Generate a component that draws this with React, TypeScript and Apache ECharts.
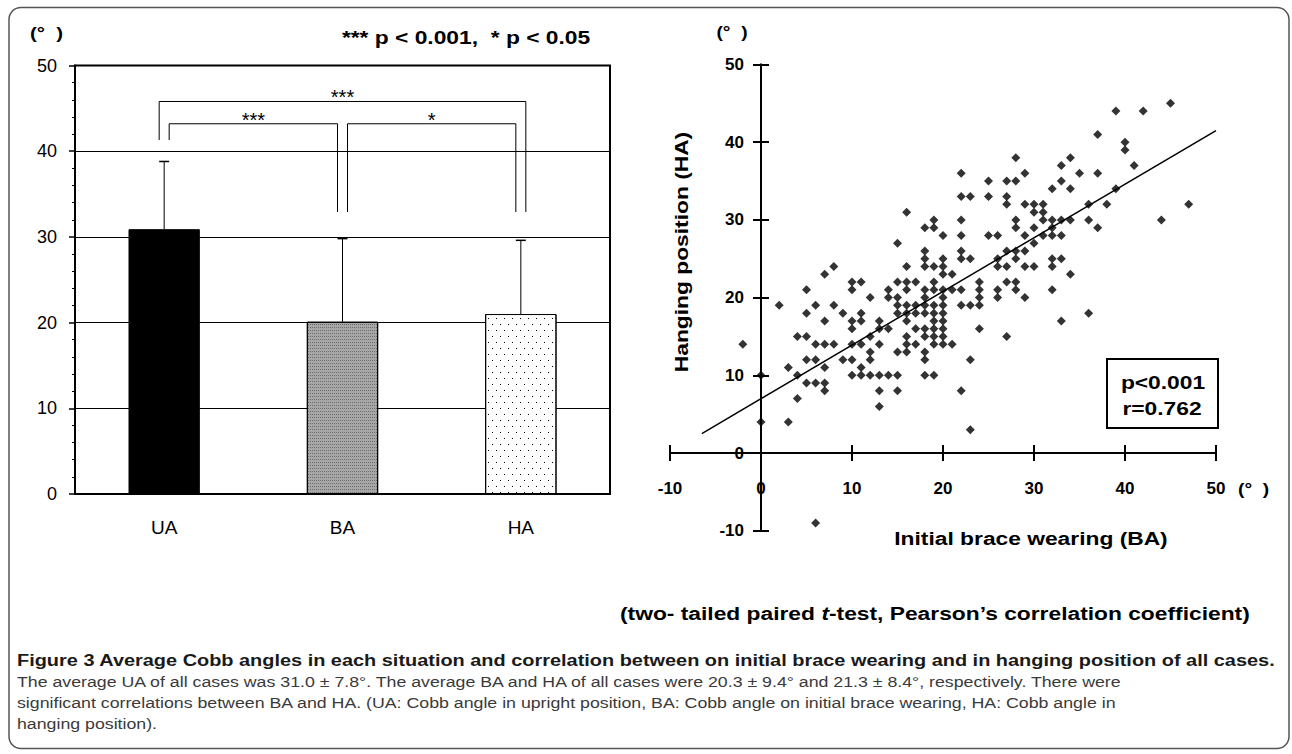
import React, { useEffect, useRef } from "react";
import * as echarts from "echarts";

// ---------- data ----------
const barCategories = ["UA", "BA", "HA"];
const barMeans = [30.9, 20.1, 21.0];
const barErrorTops = [38.8, 29.8, 29.6];
const barAxisMin = 0;
const barAxisMax = 50;
const barAxisInterval = 10;

// significance brackets: [fromCat, toCat, topValue, footFrom, footTo, sideFrom, sideTo]
const bracketDefs = [
  [0, 2, 45.8, 41.3, 32.9, -1, 1],
  [0, 1, 43.2, 41.3, 32.9, 1, -1],
  [1, 2, 43.2, 32.9, 32.9, 1, -1],
];
const bracketLabels = ["***", "***", "*"];

// scatter: [BA, HA]
const scatterPoints = [
  [-2, 14], [0, 10], [0, 4], [2, 19], [3, 11], [3, 4],
  [4, 15], [4, 10], [4, 7],
  [5, 21], [5, 18], [5, 15], [5, 12], [5, 9],
  [6, 19], [6, 14], [6, 12], [6, 9], [6, -9],
  [7, 23], [7, 17], [7, 14], [7, 11], [7, 9], [7, 8],
  [8, 24], [8, 19], [8, 14],
  [9, 18], [9, 12],
  [10, 22], [10, 21], [10, 17], [10, 16], [10, 14], [10, 12], [10, 10],
  [11, 22], [11, 18], [11, 17], [11, 14], [11, 11], [11, 10],
  [12, 20], [12, 15], [12, 13], [12, 12], [12, 10],
  [13, 17], [13, 16], [13, 14], [13, 10], [13, 8], [13, 6],
  [14, 21], [14, 20], [14, 16], [14, 10],
  [15, 27], [15, 22], [15, 20], [15, 19], [15, 18], [15, 13], [15, 10], [15, 8],
  [16, 31], [16, 24], [16, 22], [16, 21], [16, 19], [16, 18], [16, 17], [16, 15], [16, 14], [16, 13],
  [17, 22], [17, 19], [17, 18], [17, 16], [17, 14],
  [18, 29], [18, 26], [18, 25], [18, 24], [18, 21], [18, 20], [18, 19], [18, 18], [18, 16], [18, 15], [18, 13], [18, 12], [18, 10],
  [19, 30], [19, 29], [19, 24], [19, 22], [19, 21], [19, 19], [19, 18], [19, 17], [19, 16], [19, 15], [19, 14], [19, 10],
  [20, 28], [20, 25], [20, 24], [20, 23], [20, 21], [20, 20], [20, 19], [20, 18], [20, 17], [20, 16], [20, 15], [20, 14],
  [21, 23], [21, 21], [21, 14],
  [22, 36], [22, 33], [22, 30], [22, 28], [22, 26], [22, 25], [22, 21], [22, 19], [22, 8],
  [23, 33], [23, 25], [23, 19], [23, 12], [23, 3],
  [24, 22], [24, 21], [24, 20], [24, 19], [24, 16],
  [25, 35], [25, 33], [25, 28],
  [26, 28], [26, 25], [26, 24], [26, 21], [26, 20],
  [27, 35], [27, 33], [27, 32], [27, 26], [27, 24], [27, 22], [27, 15],
  [28, 38], [28, 35], [28, 30], [28, 29], [28, 26], [28, 25], [28, 22], [28, 21],
  [29, 36], [29, 32], [29, 28], [29, 26], [29, 24], [29, 20],
  [30, 32], [30, 31], [30, 29], [30, 27], [30, 24],
  [31, 32], [31, 31], [31, 30], [31, 28],
  [32, 34], [32, 30], [32, 29], [32, 28], [32, 25], [32, 24], [32, 21],
  [33, 37], [33, 35], [33, 30], [33, 28], [33, 25], [33, 17],
  [34, 38], [34, 34], [34, 30], [34, 23],
  [35, 36],
  [36, 32], [36, 30], [36, 18],
  [37, 41], [37, 36], [37, 29],
  [38, 32],
  [39, 44], [39, 34],
  [40, 40], [40, 39],
  [41, 37], [42, 44], [44, 30], [45, 45], [47, 32],
];
const fitLine = [[-6.5, 2.5], [50, 41.5]];
const scatterMin = -10;
const scatterMax = 50;
const scatterInterval = 10;
const scatterXTickLabels = ["-10", "0", "10", "20", "30", "40", "50"];

const statsLines = ["p<0.001", "r=0.762"];
const sigNote = "*** p < 0.001,  * p < 0.05";
const degreeUnit = "(°  )";
const yTitle = "Hanging position (HA)";
const xTitle = "Initial brace wearing (BA)";
const captionTitle =
  "Figure 3 Average Cobb angles in each situation and correlation between on initial brace wearing and in hanging position of all cases.";
const captionLines = [
  "The average UA of all cases was 31.0 ± 7.8°. The average BA and HA of all cases were 20.3 ± 9.4° and 21.3 ± 8.4°, respectively. There were",
  "significant correlations between BA and HA. (UA: Cobb angle in upright position, BA: Cobb angle on initial brace wearing, HA: Cobb angle in",
  "hanging position).",
];

const FONT = "'Liberation Sans', Arial, sans-serif";
const SX = 1.2; // horizontal stretch of the reference's lettering

// layout
const SC_LEFT = 670;
const SC_TOP = 64.5;
const SC_W = 546;
const SC_H = 466.2;

export default function App() {
  const ref = useRef<HTMLDivElement>(null);

  useEffect(() => {
    if (!ref.current) return;
    const chart = echarts.init(ref.current, undefined, { renderer: "svg" });

    const black = "#000";
    const x0px = SC_LEFT + (SC_W * (0 - scatterMin)) / (scatterMax - scatterMin);

    const barStyles = [
      { color: "#000", borderColor: "#000", borderWidth: 1 },
      {
        color: "#a6a6a6",
        borderColor: "#000",
        borderWidth: 1,
        decal: {
          symbol: "rect",
          symbolSize: 1,
          color: "#6e6e6e",
          dashArrayX: [1, 1],
          dashArrayY: [1, 2],
        },
      },
      {
        color: "#fff",
        borderColor: "#000",
        borderWidth: 1,
        decal: {
          symbol: "rect",
          symbolSize: 1,
          color: "#000",
          dashArrayX: [[1, 7], [0, 4, 1, 3]],
          dashArrayY: [1, 5],
        },
      },
    ];

    const scAxisBase = {
      type: "value",
      min: scatterMin,
      max: scatterMax,
      interval: scatterInterval,
      splitLine: { show: false },
    };
    const scLineAxis = {
      ...scAxisBase,
      axisLine: { onZero: true, lineStyle: { color: black, width: 2 } },
      axisTick: { show: true, length: 8, lineStyle: { color: black, width: 2 } },
      axisLabel: { show: false },
    };
    const hiddenAxis = (gridIndex: number) => ({
      ...scAxisBase,
      gridIndex,
      show: false,
      axisLine: { show: false, onZero: false },
    });

    const text = (x: number, y: number, t: string, size: number, extra: any = {}) => ({
      type: "text",
      x,
      y,
      scaleX: SX,
      rotation: extra.rotation || 0,
      z: 50,
      style: {
        text: t,
        font: `${extra.weight || "bold"} ${size}px ${FONT}`,
        fill: extra.fill || black,
        textAlign: extra.align || "left",
        textVerticalAlign: "middle",
      },
    });

    const option: any = {
      animation: false,
      backgroundColor: "#fff",
      textStyle: { fontFamily: FONT },
      grid: [
        { left: 75, top: 65.5, width: 535, height: 428.5, show: true, borderColor: black, borderWidth: 2 },
        { left: SC_LEFT, top: SC_TOP, width: SC_W, height: SC_H },
        { left: SC_LEFT, top: SC_TOP, width: SC_W, height: SC_H },
        { left: x0px, top: SC_TOP, width: SC_LEFT + SC_W - x0px, height: SC_H },
      ],
      xAxis: [
        {
          gridIndex: 0,
          type: "category",
          data: barCategories,
          axisLine: { lineStyle: { color: black, width: 2 } },
          axisTick: { inside: true, length: 7, lineStyle: { color: black, width: 2 } },
          axisLabel: { color: black, fontSize: 19, margin: 24, fontFamily: FONT },
        },
        { ...scLineAxis, gridIndex: 1 },
        { ...scLineAxis, gridIndex: 2, position: "top" },
        hiddenAxis(3),
      ],
      yAxis: [
        {
          gridIndex: 0,
          type: "value",
          min: barAxisMin,
          max: barAxisMax,
          interval: barAxisInterval,
          axisLine: { show: true, lineStyle: { color: black, width: 2 } },
          axisTick: { show: true, length: 6, lineStyle: { color: black, width: 1.5 } },
          minorTick: { show: true, splitNumber: 5, length: 3, lineStyle: { color: black, width: 1 } },
          splitLine: { show: true, lineStyle: { color: black, width: 1 } },
          axisLabel: { color: black, fontSize: 18, margin: 18, fontFamily: FONT },
        },
        { ...scLineAxis, gridIndex: 1 },
        { ...scLineAxis, gridIndex: 2, position: "right" },
        {
          ...scAxisBase,
          gridIndex: 3,
          axisLine: { show: false, onZero: false },
          axisTick: { show: false },
          axisLabel: { color: black, fontSize: 17, fontWeight: "bold", margin: 17, fontFamily: FONT },
        },
      ],
      series: [
        {
          type: "bar",
          xAxisIndex: 0,
          yAxisIndex: 0,
          barWidth: "40%",
          z: 3,
          data: barMeans.map((v, i) => ({ value: v, itemStyle: barStyles[i] })),
        },
        {
          type: "custom",
          xAxisIndex: 0,
          yAxisIndex: 0,
          z: 4,
          encode: { x: 0, y: [1, 2] },
          data: barMeans.map((v, i) => [i, v, barErrorTops[i]]),
          renderItem: (params: any, api: any) => {
            const base = api.coord([api.value(0), api.value(1)]);
            const top = api.coord([api.value(0), api.value(2)]);
            return {
              type: "group",
              children: [
                { type: "line", shape: { x1: base[0], y1: base[1], x2: top[0], y2: top[1] }, style: { stroke: black, lineWidth: 1 } },
                { type: "line", shape: { x1: top[0] - 5, y1: top[1], x2: top[0] + 5, y2: top[1] }, style: { stroke: black, lineWidth: 1.5 } },
              ],
            };
          },
        },
        {
          type: "custom",
          xAxisIndex: 0,
          yAxisIndex: 0,
          z: 5,
          encode: { x: [0, 1], y: [2, 3, 4] },
          data: bracketDefs,
          renderItem: (params: any, api: any) => {
            const a = api.coord([api.value(0), api.value(2)]);
            const b = api.coord([api.value(1), api.value(2)]);
            const fa = api.coord([api.value(0), api.value(3)]);
            const fb = api.coord([api.value(1), api.value(4)]);
            const ax = a[0] + api.value(5) * 5;
            const bx = b[0] + api.value(6) * 5;
            return {
              type: "group",
              children: [
                {
                  type: "polyline",
                  shape: { points: [[ax, fa[1]], [ax, a[1]], [bx, b[1]], [bx, fb[1]]] },
                  style: { stroke: black, lineWidth: 1, fill: "none" },
                },
                {
                  type: "text",
                  x: (ax + bx) / 2,
                  y: a[1] - 4,
                  style: {
                    text: bracketLabels[params.dataIndex],
                    fill: black,
                    font: `20px ${FONT}`,
                    textAlign: "center",
                    textVerticalAlign: "middle",
                  },
                },
              ],
            };
          },
        },
        {
          type: "scatter",
          xAxisIndex: 1,
          yAxisIndex: 1,
          symbol: "diamond",
          symbolSize: 9,
          itemStyle: { color: black },
          data: scatterPoints,
          z: 3,
        },
        {
          type: "line",
          xAxisIndex: 1,
          yAxisIndex: 1,
          showSymbol: false,
          symbol: "none",
          lineStyle: { color: black, width: 1.5 },
          data: fitLine,
          z: 4,
        },
      ],
      graphic: [
        {
          type: "rect",
          shape: { x: 9, y: 7.5, width: 1280, height: 741, r: 12 },
          style: { fill: "none", stroke: "#555", lineWidth: 1.5 },
          silent: true,
        },
        text(30, 33, degreeUnit, 17),
        text(466, 37, sigNote, 19, { align: "center" }),
        text(732, 33, degreeUnit, 16, { align: "center" }),
        text(1238, 490, degreeUnit, 16),
        text(681, 252, yTitle, 19, { align: "center", rotation: Math.PI / 2 }),
        text(1031, 538, xTitle, 19, { align: "center" }),
        {
          type: "rect",
          shape: { x: 1107, y: 359, width: 111, height: 69 },
          style: { fill: "#fff", stroke: black, lineWidth: 2 },
        },
        text(1163, 382, statsLines[0], 19, { align: "center" }),
        text(1162, 408, statsLines[1], 19, { align: "center" }),
        {
          type: "text",
          x: 620,
          y: 613,
          scaleX: SX,
          style: {
            text: "{a|(two- tailed paired }{i|t}{a|-test, Pearson\u2019s correlation coefficient)}",
            rich: {
              a: { font: `bold 19px ${FONT}`, fill: black },
              i: { font: `italic bold 19px ${FONT}`, fill: black },
            },
            textVerticalAlign: "middle",
          },
        },
        text(17, 660, captionTitle, 16.6, { fill: "#1a1a1a" }),
        ...captionLines.map((t, i) => text(17, 682 + i * 21, t, 14.8, { weight: "normal", fill: "#3a3a3a" })),
      ],
    };

    chart.setOption(option);

    // x tick labels of the scatter, placed through the scatter's own scales
    const tickTexts = scatterXTickLabels.map((lab) => {
      const p = chart.convertToPixel({ xAxisIndex: 1, yAxisIndex: 1 }, [Number(lab), 0]) as number[];
      return {
        type: "text",
        x: p[0],
        y: p[1] + 35,
        z: 60,
        style: {
          text: lab,
          fill: black,
          font: `bold 17px ${FONT}`,
          textAlign: "center",
          textVerticalAlign: "middle",
        },
      };
    });
    chart.setOption({ graphic: [...option.graphic, ...tickTexts] });

    return () => chart.dispose();
  }, []);

  return (
    <div
      ref={ref}
      style={{ position: "fixed", left: 0, top: 0, width: 1292, height: 754, background: "#fff" }}
    />
  );
}
